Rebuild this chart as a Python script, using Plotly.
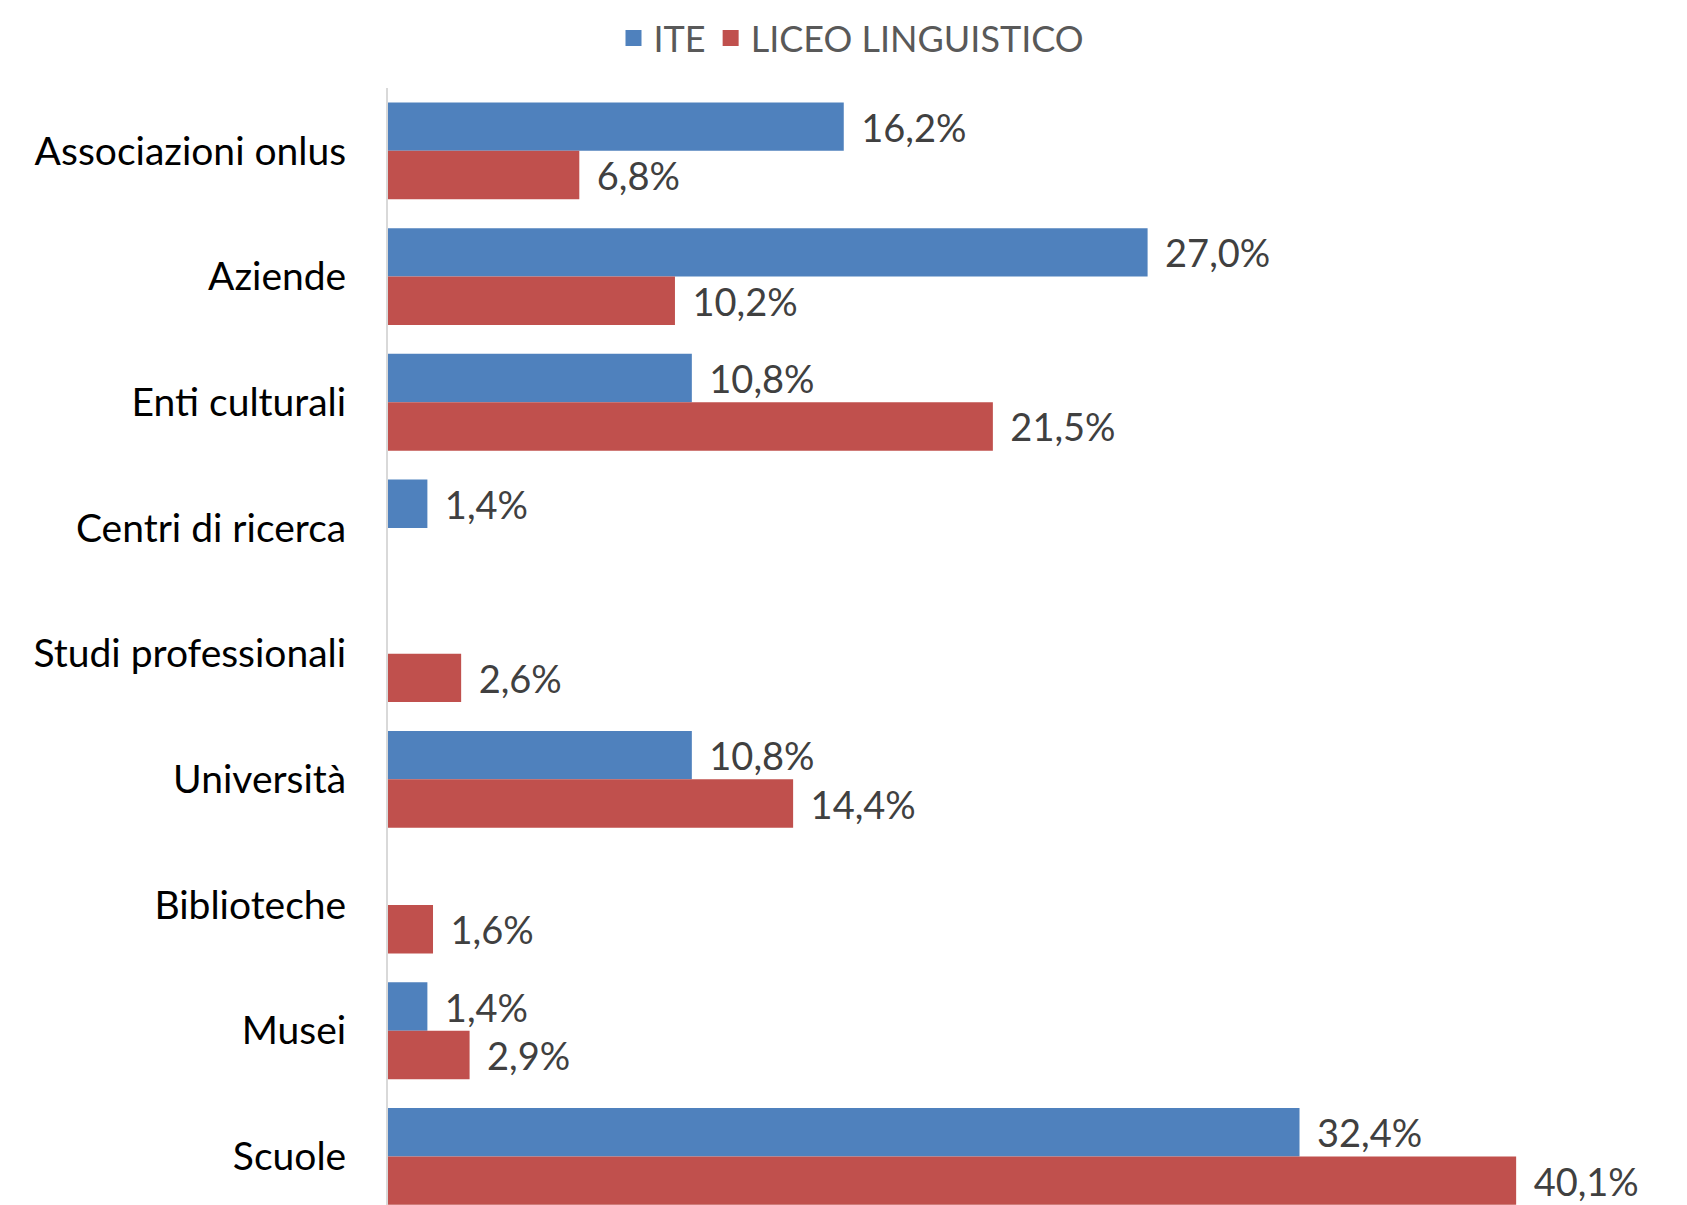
import plotly.graph_objects as go

categories = ["Associazioni onlus", "Aziende", "Enti culturali", "Centri di ricerca",
              "Studi professionali", "Università", "Biblioteche", "Musei", "Scuole"]
ite = [16.2, 27.0, 10.8, 1.4, None, 10.8, None, 1.4, 32.4]
liceo = [6.8, 10.2, 21.5, None, 2.6, 14.4, 1.6, 2.9, 40.1]
series_names = ["ITE", "LICEO LINGUISTICO"]
colors = ["#4F81BD", "#C0504D"]


def fmt(v):
    return "" if v is None else (" \u2009" + f"{v:.1f}".replace(".", ",") + "%")


fig = go.Figure()
for name, vals, col in zip(series_names, [ite, liceo], colors):
    fig.add_trace(go.Bar(
        y=categories, x=vals, name=name, orientation="h",
        marker=dict(color=col, line=dict(width=0)),
        text=[fmt(v) for v in vals], textposition="outside",
        textfont=dict(family="Lato", size=38, color="#404040"),
        constraintext="none", cliponaxis=False, showlegend=False,
    ))
# legend entries with larger square symbols
for name, col in zip(series_names, colors):
    fig.add_trace(go.Scatter(
        x=[None], y=[None], mode="markers", name=name,
        marker=dict(symbol="square", size=21, color=col),
    ))

fig.update_layout(
    width=1687, height=1205,
    margin=dict(l=380, r=41, t=80, b=0, autoexpand=False),
    barmode="group", bargap=0.23, bargroupgap=0,
    plot_bgcolor="white", paper_bgcolor="white",
    font=dict(family="Lato", color="#000000"),
    legend=dict(orientation="h", x=0.5, xanchor="center", xref="container",
                y=1.0, yanchor="top", yref="container",
                font=dict(size=36, color="#595959"),
                itemwidth=30, traceorder="normal"),
    showlegend=True,
)
fig.update_xaxes(range=[0, 45], showgrid=False, showticklabels=False, zeroline=False,
                 showline=False, automargin=False)
fig.update_yaxes(range=[8.45, -0.5], showgrid=False, showline=True, linecolor="#D9D9D9",
                 linewidth=2, ticks="", ticklabelstandoff=32, automargin=False,
                 tickfont=dict(family="Lato", size=39, color="#000000"))

fig.write_html("out.html")
